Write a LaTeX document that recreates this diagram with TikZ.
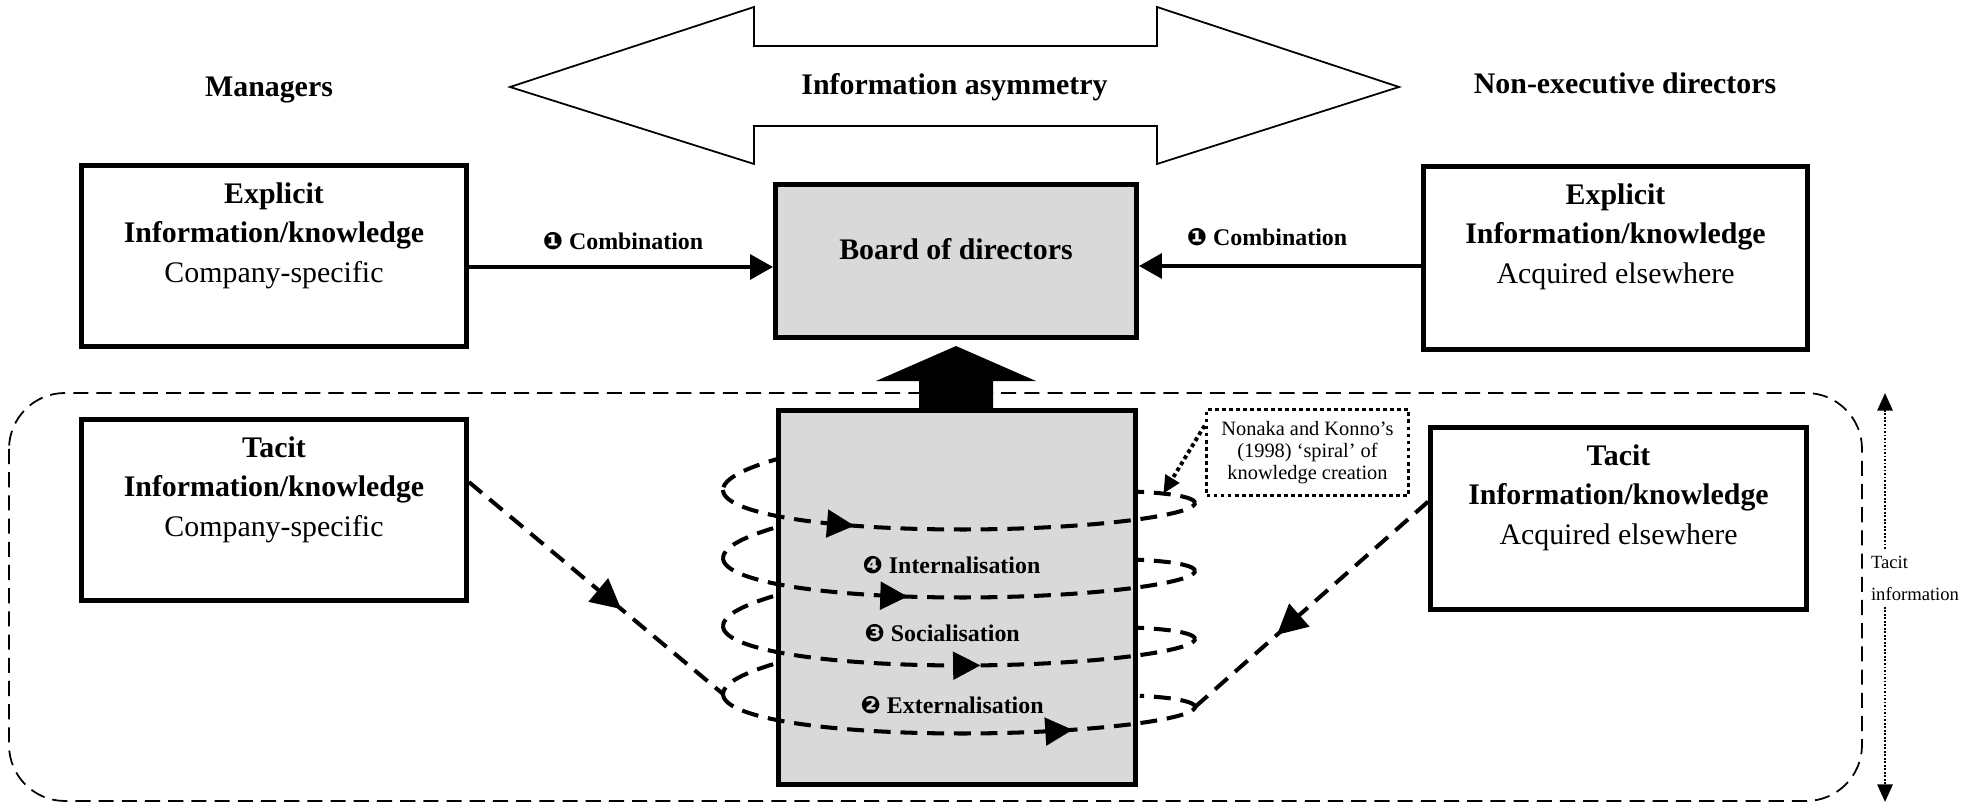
\documentclass[tikz,border=0pt]{standalone}
\usepackage{fontspec}
\setmainfont{Liberation Serif}
\newfontfamily\dingfont{DejaVu Sans}
\usetikzlibrary{arrows.meta,calc,decorations.markings}
\definecolor{ink}{HTML}{000000}
\definecolor{boardfill}{HTML}{D9D9D9}

\begin{document}
\begin{tikzpicture}[
  x=0.1mm, y=-0.1mm,
  font=\fontsize{8.5}{11.2}\selectfont,
  >={Triangle[length=6.5pt, width=7pt]},
  declare function={hx(\t)=959+236*cos(\t); hy(\t)=479.5+0.18889*(\t-180)-33*sin(\t)-10.5*cos(\t);},
  infobox/.style={draw=ink, line width=1.4pt, inner sep=0pt, minimum width=38.5mm, minimum height=18.1mm},
  infotext/.style={align=center, anchor=north, inner sep=0pt, text=ink},
  boardbox/.style={draw=ink, fill=boardfill, line width=1.4pt, inner sep=0pt},
  headline/.style={font=\fontsize{8.5}{11.2}\selectfont\bfseries, text=ink, inner sep=0pt},
  modelabel/.style={font=\fontsize{6.8}{8}\selectfont\bfseries, text=ink, inner sep=0pt},
  notebox/.style={draw=ink, line width=1.1pt, dash pattern=on 1.1pt off 0.9pt, align=center, text=ink,
    font=\fontsize{5.8}{6.2}\selectfont, minimum width=20.2mm, minimum height=8.6mm, inner sep=0pt},
  sidenote/.style={align=left, fill=white, text=ink, font=\fontsize{5.3}{9.1}\selectfont, inner sep=2pt},
  flow/.style={->, draw=ink, line width=1.1pt},
  spiralline/.style={draw=ink, line width=1.15pt, dash pattern=on 4.8pt off 2.8pt},
  tipmark/.style 2 args={postaction={decorate, decoration={markings,
    mark=at position #1 with {\arrow{Triangle[length=#2, width=#2]}}}}},
  tacitzone/.style={draw=ink, line width=0.5pt, dash pattern=on 4.3pt off 2.3pt, rounded corners=5.6mm},
  notelink/.style={-{Triangle[length=5pt, width=4.5pt]}, draw=ink, line width=1.1pt, dash pattern=on 1.1pt off 0.9pt},
  scalearrow/.style={{Triangle[length=5pt, width=4.3pt]}-{Triangle[length=5pt, width=4.3pt]}, draw=ink,
    line width=0.7pt, dash pattern=on 0.5pt off 0.5pt}
]
\useasboundingbox (0,0) rectangle (1979,803);

\draw[tacitzone] (9,393) rectangle (1862,801);

% top row
\draw[ink, line width=0.5pt, fill=white] (510,87) -- (754,7) -- (754,46) -- (1157,46) -- (1157,7) -- (1399,87)
  -- (1157,164) -- (1157,126) -- (754,126) -- (754,164) -- cycle;
\node[headline] (asym) at (954.5,87) {Information asymmetry};
\node[headline] (managers) at (269,90) {Managers};
\node[headline] (nonexec) at (1625,83) {Non-executive directors};

\node[infobox] (explL) at (274,256) {};
\node[infotext] (explLtext) at ($(explL.north)+(0,19)$) {\textbf{Explicit}\\\textbf{Information/knowledge}\\Company-specific};
\node[infobox, minimum width=38.4mm, minimum height=18.3mm] (explR) at (1615.5,258) {};
\node[infotext] (explRtext) at ($(explR.north)+(0,19)$) {\textbf{Explicit}\\\textbf{Information/knowledge}\\Acquired elsewhere};

\node[boardbox, minimum width=36.1mm, minimum height=15.3mm] (board) at (956,261) {};
\node[headline] (boardtext) at (956,249) {Board of directors};

\draw[flow] ($(explL.east)+(0,11)$) -- ($(board.west)+(0,6)$);
\draw[flow] ($(explR.west)+(0,8)$) -- ($(board.east)+(0,5)$);
\node[modelabel] (combL) at (623,241) {{\dingfont ❶} Combination};
\node[modelabel] (combR) at (1267,237) {{\dingfont ❶} Combination};

% tacit row
\node[infobox] (tacitL) at (274,510) {};
\node[infotext] (tacitLtext) at ($(tacitL.north)+(0,19)$) {\textbf{Tacit}\\\textbf{Information/knowledge}\\Company-specific};
\node[infobox, minimum width=37.6mm, minimum height=18.2mm] (tacitR) at (1618.5,518.5) {};
\node[infotext] (tacitRtext) at ($(tacitR.north)+(0,19)$) {\textbf{Tacit}\\\textbf{Information/knowledge}\\Acquired elsewhere};

% back halves of the spiral, the box hides what lies behind it
\foreach \a/\b in {137.5/180, 360/540, 720/900, 1080/1260, 1440/1480}
  \draw[spiralline] plot[domain=\a:\b, samples=40] ({hx(\x)},{hy(\x)});
\node[boardbox, minimum width=35.7mm, minimum height=37.4mm] (spiralbox) at (957,597.5) {};
\foreach \a/\b/\p in {180/360/0.29, 540/720/0.40, 900/1080/0.55, 1260/1440/0.74}
  \draw[spiralline, tipmark={\p}{7.8pt}] plot[domain=\a:\b, samples=60] ({hx(\x)},{hy(\x)});

\fill[ink] ($(spiralbox.north)+(-38,0)$) -- ++(0,-27) -- ++(-43,0) -- ++(80,-35) -- ++(80,35) -- ++(-43,0) -- ++(0,27) -- cycle;

\node[modelabel, anchor=west] (internal) at (862,565) {{\dingfont ❹} Internalisation};
\node[modelabel, anchor=west] (social) at (864,633) {{\dingfont ❸} Socialisation};
\node[modelabel, anchor=west] (external) at (860,705) {{\dingfont ❷} Externalisation};

\coordinate (loopleft) at ({hx(1260)},{hy(1260)});
\coordinate (loopright) at ({hx(1440)},{hy(1440)});
\coordinate (loopnote) at ({hx(390)},{hy(390)});
\draw[spiralline, tipmark={0.6}{8.5pt}] ($(tacitL.north east)!0.35!(tacitL.south east)$) -- (loopleft);
\draw[spiralline, tipmark={0.65}{8.5pt}] ($(tacitR.north west)!0.41!(tacitR.south west)$) -- (loopright);

\node[notebox] (note) at (1307.5,452.5) {Nonaka and Konno’s\\(1998) ‘spiral’ of\\knowledge creation};
\draw[notelink] ($(note.north west)+(0,18)$) -- (loopnote);

\coordinate (tacittop) at (1885,393);
\coordinate (tacitbottom) at (1885,802);
\draw[scalearrow] (tacittop) -- (tacitbottom);
\node[sidenote] (tacitinfo) at (1915,578) {Tacit\\information};
\end{tikzpicture}
\end{document}
